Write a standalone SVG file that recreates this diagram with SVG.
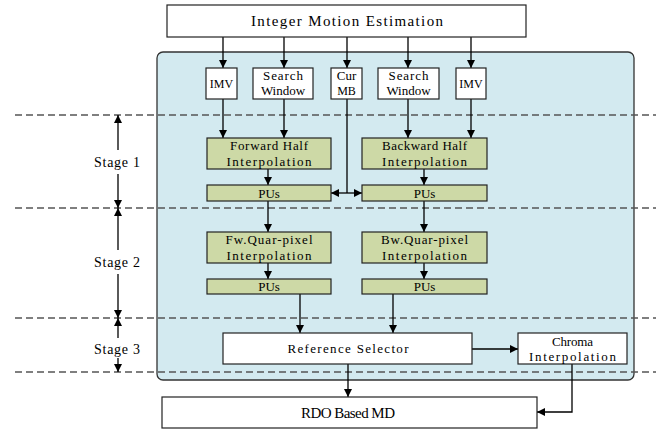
<svg xmlns="http://www.w3.org/2000/svg" width="665" height="433" viewBox="0 0 665 433">
  <style>
    .box { fill: #ffffff; stroke: #222; stroke-width: 1.2; }
    .grn { fill: #cdd9a6; stroke: #222; stroke-width: 1.2; }
    .panel { fill: #d3eaf0; stroke: #333; stroke-width: 1.3; }
    .dash { stroke: #555; stroke-width: 1.3; stroke-dasharray: 7 4; fill: none; }
    .ln { stroke: #000; stroke-width: 1.3; fill: none; }
    text { font-family: "Liberation Serif", "DejaVu Serif", serif; fill: #000; text-anchor: middle; }
    .t13 { font-size: 13px; }
    .t12 { font-size: 12px; }
    .t15 { font-size: 15px; }
    .stg { font-size: 14px; }
  </style>
  <defs>
    <marker id="ah" viewBox="0 0 10 10" refX="10" refY="5" markerWidth="8" markerHeight="8" markerUnits="userSpaceOnUse" orient="auto-start-reverse">
      <path d="M0,0 L10,5 L0,10 z" fill="#000"/>
    </marker>
  </defs>

  <!-- pipeline background -->
  <rect class="panel" x="157" y="52" width="477" height="328" rx="6"/>

  <!-- stage boundaries -->
  <g id="stage-lines">
    <line class="dash" x1="15" y1="115" x2="656" y2="115"/>
    <line class="dash" x1="15" y1="208" x2="656" y2="208"/>
    <line class="dash" x1="15" y1="318" x2="656" y2="318"/>
    <line class="dash" x1="15" y1="372" x2="656" y2="372"/>
  </g>

  <!-- stage labels with span arrows -->
  <g id="stage1">
    <line class="ln" x1="118" y1="150" x2="118" y2="115" marker-end="url(#ah)"/>
    <line class="ln" x1="118" y1="174" x2="118" y2="208" marker-end="url(#ah)"/>
    <text class="stg" x="117" y="167" textLength="46">Stage 1</text>
  </g>
  <g id="stage2">
    <line class="ln" x1="118" y1="250" x2="118" y2="208" marker-end="url(#ah)"/>
    <line class="ln" x1="118" y1="274" x2="118" y2="318" marker-end="url(#ah)"/>
    <text class="stg" x="117" y="267" textLength="46">Stage 2</text>
  </g>
  <g id="stage3">
    <line class="ln" x1="118" y1="338" x2="118" y2="318" marker-end="url(#ah)"/>
    <line class="ln" x1="118" y1="358" x2="118" y2="372" marker-end="url(#ah)"/>
    <text class="stg" x="117" y="354" textLength="46">Stage 3</text>
  </g>

  <!-- connectors -->
  <g id="connectors">
    <line class="ln" x1="223" y1="37" x2="223" y2="68" marker-end="url(#ah)"/>
    <line class="ln" x1="284" y1="37" x2="284" y2="68" marker-end="url(#ah)"/>
    <line class="ln" x1="347" y1="37" x2="347" y2="68" marker-end="url(#ah)"/>
    <line class="ln" x1="408" y1="37" x2="408" y2="68" marker-end="url(#ah)"/>
    <line class="ln" x1="471" y1="37" x2="471" y2="68" marker-end="url(#ah)"/>

    <line class="ln" x1="223" y1="99" x2="223" y2="138" marker-end="url(#ah)"/>
    <line class="ln" x1="284" y1="99" x2="284" y2="138" marker-end="url(#ah)"/>
    <line class="ln" x1="408" y1="99" x2="408" y2="138" marker-end="url(#ah)"/>
    <line class="ln" x1="471" y1="99" x2="471" y2="138" marker-end="url(#ah)"/>

    <line class="ln" x1="347" y1="99" x2="347" y2="193"/>
    <line class="ln" x1="347" y1="193" x2="331" y2="193" marker-end="url(#ah)"/>
    <line class="ln" x1="347" y1="193" x2="362" y2="193" marker-end="url(#ah)"/>

    <line class="ln" x1="268" y1="169" x2="268" y2="185" marker-end="url(#ah)"/>
    <line class="ln" x1="424" y1="169" x2="424" y2="185" marker-end="url(#ah)"/>
    <line class="ln" x1="268" y1="201" x2="268" y2="232" marker-end="url(#ah)"/>
    <line class="ln" x1="424" y1="201" x2="424" y2="232" marker-end="url(#ah)"/>
    <line class="ln" x1="268" y1="263" x2="268" y2="279" marker-end="url(#ah)"/>
    <line class="ln" x1="424" y1="263" x2="424" y2="279" marker-end="url(#ah)"/>

    <line class="ln" x1="300" y1="294" x2="300" y2="333" marker-end="url(#ah)"/>
    <line class="ln" x1="393" y1="294" x2="393" y2="333" marker-end="url(#ah)"/>

    <line class="ln" x1="348" y1="364" x2="348" y2="397" marker-end="url(#ah)"/>
    <line class="ln" x1="472" y1="349" x2="518" y2="349" marker-end="url(#ah)"/>
    <polyline class="ln" points="572,364 572,412 537,412" marker-end="url(#ah)"/>
  </g>

  <!-- nodes -->
  <g id="ime">
    <rect class="box" x="167" y="5" width="359" height="32"/>
    <text class="t15" x="347" y="26" textLength="192">Integer Motion Estimation</text>
  </g>
  <g id="imv-fw">
    <rect class="box" x="206" y="68" width="31" height="31"/>
    <text class="t12" x="221.5" y="88">IMV</text>
  </g>
  <g id="sw-fw">
    <rect class="box" x="253" y="68" width="60" height="31"/>
    <text class="t13" x="283" y="80" textLength="40">Search</text>
    <text class="t13" x="283" y="95">Window</text>
  </g>
  <g id="cur-mb">
    <rect class="box" x="331" y="68" width="31" height="31"/>
    <text class="t13" x="346.5" y="80">Cur</text>
    <text class="t12" x="346.5" y="95">MB</text>
  </g>
  <g id="sw-bw">
    <rect class="box" x="378" y="68" width="61" height="31"/>
    <text class="t13" x="408.5" y="80" textLength="40">Search</text>
    <text class="t13" x="408.5" y="95">Window</text>
  </g>
  <g id="imv-bw">
    <rect class="box" x="456" y="68" width="30" height="31"/>
    <text class="t12" x="471" y="88">IMV</text>
  </g>

  <g id="fw-half">
    <rect class="grn" x="207" y="138" width="124" height="31"/>
    <text class="t13" x="269" y="150" textLength="78">Forward Half</text>
    <text class="t13" x="269" y="166" textLength="85">Interpolation</text>
  </g>
  <g id="bw-half">
    <rect class="grn" x="362" y="138" width="125" height="31"/>
    <text class="t13" x="424.5" y="150" textLength="85">Backward Half</text>
    <text class="t13" x="424.5" y="166" textLength="85">Interpolation</text>
  </g>
  <g id="pu-fw-half">
    <rect class="grn" x="207" y="185" width="124" height="16"/>
    <text class="t13" x="269" y="197.5">PUs</text>
  </g>
  <g id="pu-bw-half">
    <rect class="grn" x="362" y="185" width="125" height="16"/>
    <text class="t13" x="424.5" y="197.5">PUs</text>
  </g>

  <g id="fw-quar">
    <rect class="grn" x="207" y="232" width="124" height="31"/>
    <text class="t13" x="269" y="244" textLength="87">Fw.Quar-pixel</text>
    <text class="t13" x="269" y="260" textLength="85">Interpolation</text>
  </g>
  <g id="bw-quar">
    <rect class="grn" x="362" y="232" width="125" height="31"/>
    <text class="t13" x="424.5" y="244" textLength="87">Bw.Quar-pixel</text>
    <text class="t13" x="424.5" y="260" textLength="85">Interpolation</text>
  </g>
  <g id="pu-fw-quar">
    <rect class="grn" x="207" y="279" width="124" height="15"/>
    <text class="t13" x="269" y="291">PUs</text>
  </g>
  <g id="pu-bw-quar">
    <rect class="grn" x="362" y="279" width="125" height="15"/>
    <text class="t13" x="424.5" y="291">PUs</text>
  </g>

  <g id="ref-sel">
    <rect class="box" x="223" y="333" width="249" height="31"/>
    <text class="t13" x="348" y="353" textLength="121">Reference Selector</text>
  </g>
  <g id="chroma">
    <rect class="box" x="518" y="333" width="109" height="31"/>
    <text class="t13" x="572.5" y="346" textLength="41">Chroma</text>
    <text class="t13" x="572.5" y="361" textLength="87">Interpolation</text>
  </g>
  <g id="rdo-md">
    <rect class="box" x="162" y="397" width="375" height="31"/>
    <text class="t15" x="348" y="418" textLength="94">RDO Based MD</text>
  </g>
</svg>
